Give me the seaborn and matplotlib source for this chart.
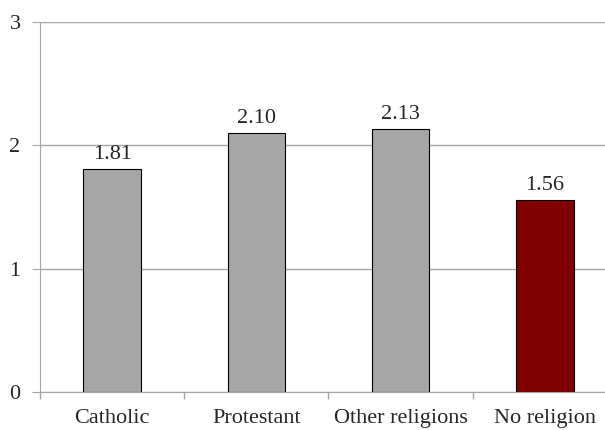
import matplotlib
matplotlib.use("Agg")
import matplotlib.pyplot as plt
import seaborn as sns
import pandas as pd

categories = ["Catholic", "Protestant", "Other religions", "No religion"]
values = [1.81, 2.10, 2.13, 1.56]
bar_colors = ["#A6A6A6", "#A6A6A6", "#A6A6A6", "#800000"]

df = pd.DataFrame({"group": categories, "value": values})

sns.set_style("white")
plt.rcParams["font.family"] = ["Liberation Serif", "DejaVu Serif"]

fig = plt.figure(figsize=(6.05, 4.30), dpi=100)
ax = fig.add_axes([40 / 605, 38 / 430, 577 / 605, 370 / 430])

sns.barplot(data=df, x="group", y="value", hue="group", palette=bar_colors,
            saturation=1, width=0.4, edgecolor="black", linewidth=0.8,
            legend=False, ax=ax, zorder=3)

for i, v in enumerate(values):
    ax.text(i, v + 0.04, f"{v:.2f}", ha="center", va="bottom", fontsize=16)

ax.set_ylim(0, 3)
ax.set_xlim(-0.5, 3.5)
ax.set_yticks([0, 1, 2, 3])
ax.yaxis.grid(True, color="#A6A6A6", linewidth=1, zorder=0)
ax.set_axisbelow(True)
ax.set_xlabel("")
ax.set_ylabel("")
ax.tick_params(axis="y", labelsize=16, length=6, color="#A6A6A6", pad=8, left=True)
ax.tick_params(axis="x", labelsize=16, length=0, pad=12)
# category separators below the axis, Excel style
ax.set_xticks([-0.5, 0.5, 1.5, 2.5, 3.5], minor=True)
ax.tick_params(axis="x", which="minor", length=5, width=1, color="#A6A6A6", bottom=True)
for s in ["top", "right"]:
    ax.spines[s].set_visible(False)
ax.spines["left"].set_color("#A6A6A6")
ax.spines["bottom"].set_color("#A6A6A6")

fig.savefig("out.png", dpi=100)
